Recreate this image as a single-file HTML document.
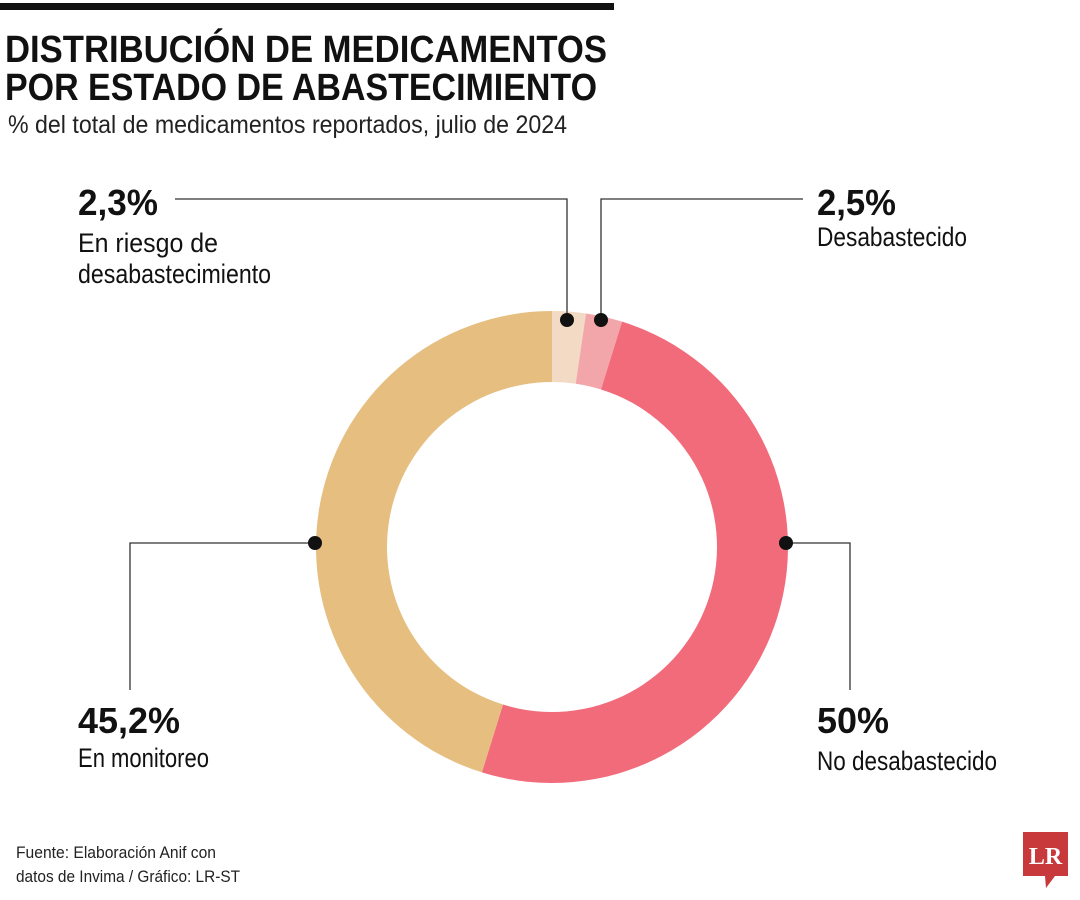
<!DOCTYPE html>
<html><head><meta charset="utf-8">
<style>html,body{margin:0;padding:0;background:#fff;}svg{display:block;font-family:"Liberation Sans",sans-serif;}</style>
</head><body>
<svg width="1080" height="900" viewBox="0 0 1080 900">
<rect x="0" y="3" width="614" height="7" fill="#111"/>
<text x="5" y="62" font-size="38" font-weight="bold" fill="#111" textLength="602" lengthAdjust="spacingAndGlyphs">DISTRIBUCIÓN DE MEDICAMENTOS</text>
<text x="5" y="100" font-size="38" font-weight="bold" fill="#111" textLength="592" lengthAdjust="spacingAndGlyphs">POR ESTADO DE ABASTECIMIENTO</text>
<text x="8" y="133" font-size="25" fill="#222" textLength="559" lengthAdjust="spacingAndGlyphs">% del total de medicamentos reportados, julio de 2024</text>
<g id="donut"></g>
<g stroke="#333" stroke-width="1.3" fill="none">
<polyline points="175,199 567,199 567,320"/>
<polyline points="601,320 601,199 803,199"/>
<polyline points="315,543 130,543 130,690"/>
<polyline points="786,543 850,543 850,690"/>
</g>
<g fill="#111">
<circle cx="567" cy="320" r="7"/><circle cx="601" cy="320" r="7"/>
<circle cx="315" cy="543" r="7"/><circle cx="786" cy="543" r="7"/>
</g>
<g fill="#111">
<text x="78" y="215" font-size="36" font-weight="bold" textLength="80" lengthAdjust="spacingAndGlyphs">2,3%</text>
<text x="78" y="252" font-size="27" textLength="140" lengthAdjust="spacingAndGlyphs">En riesgo de</text>
<text x="78" y="283" font-size="27" textLength="193" lengthAdjust="spacingAndGlyphs">desabastecimiento</text>
<text x="817" y="215" font-size="36" font-weight="bold" textLength="79" lengthAdjust="spacingAndGlyphs">2,5%</text>
<text x="817" y="246" font-size="27" textLength="150" lengthAdjust="spacingAndGlyphs">Desabastecido</text>
<text x="78" y="733" font-size="36" font-weight="bold" textLength="102" lengthAdjust="spacingAndGlyphs">45,2%</text>
<text x="78" y="767" font-size="27" textLength="131" lengthAdjust="spacingAndGlyphs">En monitoreo</text>
<text x="817" y="733" font-size="36" font-weight="bold" textLength="72" lengthAdjust="spacingAndGlyphs">50%</text>
<text x="817" y="770" font-size="27" textLength="180" lengthAdjust="spacingAndGlyphs">No desabastecido</text>
<text x="16" y="858" font-size="17" fill="#222" textLength="200" lengthAdjust="spacingAndGlyphs">Fuente: Elaboración Anif con</text>
<text x="16" y="882" font-size="17" fill="#222" textLength="224" lengthAdjust="spacingAndGlyphs">datos de Invima / Gráfico: LR-ST</text>
</g>
<g>
<path d="M1023,832 H1068 V876 H1055 L1046,888 L1045,876 H1023 Z" fill="#c8393c"/>
<text x="1045.5" y="864" font-family="Liberation Serif,serif" font-weight="bold" font-size="24" fill="#fff" text-anchor="middle">LR</text>
</g>
</svg>
<script>
const categories = ["En riesgo de desabastecimiento","Desabastecido","No desabastecido","En monitoreo"];
const values = [2.3, 2.5, 50, 45.2];
const colors = ["#f2dac4","#f2a6aa","#f26b7b","#e5be80"];
const cx=552, cy=547, R=236, r=165;
const g=document.getElementById('donut');
const total=values.reduce((a,b)=>a+b,0);
function pt(rad,a){return [cx+rad*Math.sin(a), cy-rad*Math.cos(a)];}
let acc=0;
values.forEach((v,i)=>{
  const a0=acc/total*2*Math.PI; acc+=v; const a1=acc/total*2*Math.PI;
  const large=(a1-a0)>Math.PI?1:0;
  const [x0,y0]=pt(R,a0),[x1,y1]=pt(R,a1),[x2,y2]=pt(r,a1),[x3,y3]=pt(r,a0);
  const p=document.createElementNS('http://www.w3.org/2000/svg','path');
  p.setAttribute('d',`M${x0},${y0} A${R},${R} 0 ${large} 1 ${x1},${y1} L${x2},${y2} A${r},${r} 0 ${large} 0 ${x3},${y3} Z`);
  p.setAttribute('fill',colors[i]);
  
  
  g.appendChild(p);
});
</script>
</body></html>
